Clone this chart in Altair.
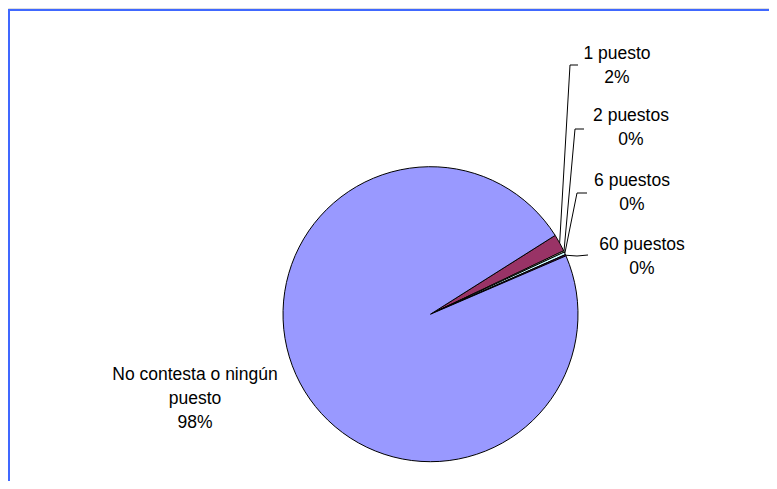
import math
import altair as alt
import pandas as pd

# ---- data ----
categories = ["1 puesto", "2 puestos", "6 puestos", "60 puestos", "No contesta o ningún puesto"]
values = [1.9, 0.15, 0.3, 0.15, 97.5]          # percent of answers
colors = ["#993366", "#FFFFCC", "#CCFFFF", "#660066", "#9999FF"]
display_names = ["1 puesto", "2 puestos", "6 puestos", "60 puestos", "No contesta o ningún\npuesto"]

# ---- layout (page pixels) ----
ORIGIN = 8                      # page margin
CX, CY, R = 430.5, 314.2, 147.5
START_DEG = 57.7                # first slice starts here (clockwise from 12 o'clock)
label_pos = {                   # centre x, first-line baseline y
    "1 puesto": (617, 58.5),
    "2 puestos": (631, 120.5),
    "6 puestos": (632, 185.5),
    "60 puestos": (642, 249.5),
    "No contesta o ningún puesto": (195, 380),
}
leader_pts = {                  # elbow, end of leader line
    "1 puesto": [(570, 65), (578, 65)],
    "2 puestos": [(575, 129), (584, 129)],
    "6 puestos": [(577, 193), (587, 193)],
    "60 puestos": [(577, 256), (588, 255)],
}

total = sum(values)
start = math.radians(START_DEG)

pie_df = pd.DataFrame({"cat": categories, "value": values, "idx": range(len(categories))})

# label texts
lab_rows = []
for c, v, d in zip(categories, values, display_names):
    px, py = label_pos[c]
    lab_rows.append({"cat": c, "text": f"{d}\n{round(v)}%", "x": px - ORIGIN, "y": py - ORIGIN})
lab_df = pd.DataFrame(lab_rows)

# leader lines: start at slice mid-angle on the rim
line_rows = []
cum = 0.0
for c, v in zip(categories, values):
    mid = start + 2 * math.pi * (cum + v / 2) / total
    cum += v
    if c not in leader_pts:
        continue
    sx = CX + R * math.sin(mid)
    sy = CY - R * math.cos(mid)
    pts = [(sx, sy)] + leader_pts[c]
    for k, (px, py) in enumerate(pts):
        line_rows.append({"cat": c, "k": k, "x": px - ORIGIN, "y": py - ORIGIN})
line_df = pd.DataFrame(line_rows)

frame = alt.Chart(pd.DataFrame({"a": [0]})).mark_rect(
    fillOpacity=0, stroke="#4068FF", strokeWidth=2
).encode(x=alt.value(1), x2=alt.value(900), y=alt.value(2), y2=alt.value(700))

pie = alt.Chart(pie_df).mark_arc(
    outerRadius=R, stroke="black", strokeWidth=1
).encode(
    theta=alt.Theta("value:Q", stack=True,
                    scale=alt.Scale(range=[start, start + 2 * math.pi], zero=True, nice=False)),
    order=alt.Order("idx:Q"),
    color=alt.Color("cat:N", scale=alt.Scale(domain=categories, range=colors), legend=None),
    x=alt.value(CX - ORIGIN),
    y=alt.value(CY - ORIGIN),
)

leaders = alt.Chart(line_df).mark_line(color="black", strokeWidth=1).encode(
    x=alt.X("x:Q", scale=None),
    y=alt.Y("y:Q", scale=None),
    detail="cat:N",
    order="k:Q",
)

labels = alt.Chart(lab_df).mark_text(
    font="Liberation Sans", fontSize=17.5, color="black", align="center",
    baseline="alphabetic", lineBreak="\n", lineHeight=24
).encode(
    x=alt.X("x:Q", scale=None),
    y=alt.Y("y:Q", scale=None),
    text="text:N",
)

chart = alt.layer(frame, pie, leaders, labels).properties(
    width=761, height=473, autosize=alt.AutoSizeParams(type="none"), padding=0
).configure_view(stroke=None).configure(background="white")

chart.save("out.html", embed_options={"renderer": "svg", "actions": False})
